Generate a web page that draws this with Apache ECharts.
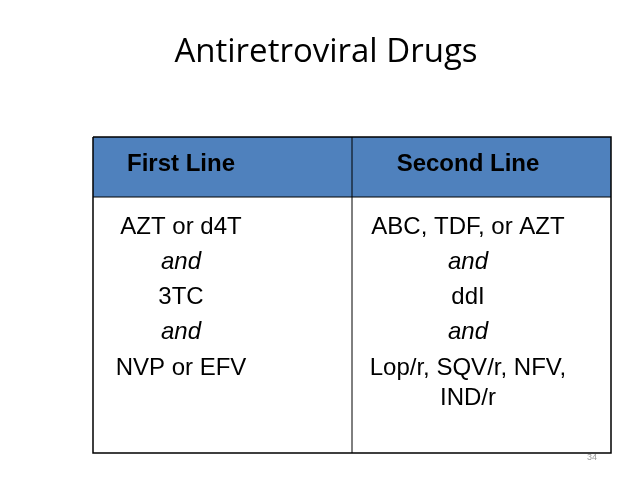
<!DOCTYPE html>
<html><head><meta charset="utf-8">
<script src="https://cdn.jsdelivr.net/npm/echarts@6/dist/echarts.min.js"></script>
<style>html,body{margin:0;padding:0;background:#fff}#c{width:638px;height:479px}</style>
</head><body><div id="c"></div>
<script>
const title = "Antiretroviral Drugs";
const headers = ["First Line", "Second Line"];
const col1 = [["AZT or d4T",false],["and",true],["3TC",false],["and",true],["NVP or EFV",false]];
const col2 = [["ABC, TDF, or AZT",false],["and",true],["ddI",false],["and",true],["Lop/r, SQV/r, NFV,",false],["IND/r",false]];
const pageNo = "34";

const L=93,R=611,M=352,T=137,H=197,B=453;
const g=[];
g.push({type:'text',x:326,y:53,style:{text:title,align:'center',verticalAlign:'middle',font:'33px "Open Sans", sans-serif',fill:'#000'}});
g.push({type:'rect',shape:{x:L,y:T,width:R-L,height:H-T},style:{fill:'#4F81BD'}});
g.push({type:'polyline',shape:{points:[[L,T],[R,T],[R,B],[L,B],[L,T]]},style:{stroke:'#000',lineWidth:1.5,fill:null}});
g.push({type:'line',shape:{x1:L,y1:H,x2:R,y2:H},style:{stroke:'#000',lineWidth:1}});
g.push({type:'line',shape:{x1:M,y1:T,x2:M,y2:B},style:{stroke:'#000',lineWidth:1}});
const cx=[181,468];
headers.forEach((h,i)=>g.push({type:'text',x:cx[i],y:164,style:{text:h,align:'center',verticalAlign:'middle',font:'bold 24px "Liberation Sans", Arial',fill:'#000'}}));
const ys=[227,262,297,332,368,398];
[col1,col2].forEach((col,i)=>col.forEach((r,j)=>g.push({type:'text',x:cx[i],y:ys[j],style:{text:r[0],align:'center',verticalAlign:'middle',font:(r[1]?'italic ':'')+'24px "Liberation Sans", Arial',fill:'#000'}})));
g.push({type:'text',x:592,y:458,style:{text:pageNo,align:'center',verticalAlign:'middle',font:'9px "Liberation Sans"',fill:'#999'}});
const ch=echarts.init(document.getElementById('c'));
ch.setOption({animation:false,graphic:g});
</script></body></html>
